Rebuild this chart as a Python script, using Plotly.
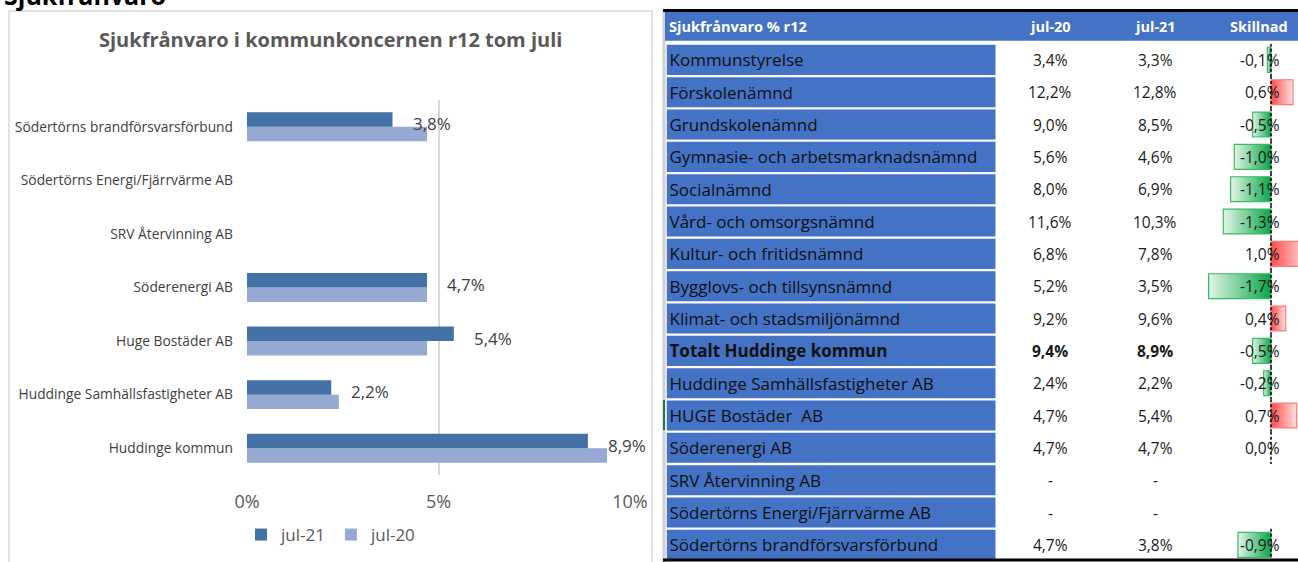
import plotly.graph_objects as go

W, H = 1298, 562
FONT = "Open Sans"

# ---------------- Left chart data ----------------
chart_categories = ["Huddinge kommun", "Huddinge Samhällsfastigheter AB", "Huge Bostäder AB",
                    "Söderenergi AB", "SRV Återvinning AB", "Södertörns Energi/Fjärrvärme AB",
                    "Södertörns brandförsvarsförbund"]
chart_jul21 = [8.9, 2.2, 5.4, 4.7, None, None, 3.8]
chart_jul20 = [9.4, 2.4, 4.7, 4.7, None, None, 4.7]
x_ticks = [0, 5, 10]
x_ticklabels = ["0%", "5%", "10%"]
chart_title = "Sjukfrånvaro i kommunkoncernen r12 tom juli"
page_heading = "Sjukfrånvaro"

# ---------------- Table data ----------------
table_headers = ["Sjukfrånvaro % r12", "jul-20", "jul-21", "Skillnad"]
table_rows = ["Kommunstyrelse", "Förskolenämnd", "Grundskolenämnd",
              "Gymnasie- och arbetsmarknadsnämnd", "Socialnämnd", "Vård- och omsorgsnämnd",
              "Kultur- och fritidsnämnd", "Bygglovs- och tillsynsnämnd",
              "Klimat- och stadsmiljönämnd", "Totalt Huddinge kommun",
              "Huddinge Samhällsfastigheter AB", "HUGE Bostäder  AB", "Söderenergi AB",
              "SRV Återvinning AB", "Södertörns Energi/Fjärrvärme AB",
              "Södertörns brandförsvarsförbund"]
table_jul20 = [3.4, 12.2, 9.0, 5.6, 8.0, 11.6, 6.8, 5.2, 9.2, 9.4, 2.4, 4.7, 4.7, None, None, 4.7]
table_jul21 = [3.3, 12.8, 8.5, 4.6, 6.9, 10.3, 7.8, 3.5, 9.6, 8.9, 2.2, 5.4, 4.7, None, None, 3.8]
table_diff = [-0.1, 0.6, -0.5, -1.0, -1.1, -1.3, 1.0, -1.7, 0.4, -0.5, -0.2, 0.7, 0.0, None, None, -0.9]
bold_rows = ["Totalt Huddinge kommun"]


def fmt(v, dash="-"):
    if v is None:
        return dash
    return f"{v:.1f}".replace(".", ",") + "%"


def px_x(p):
    return p / W


def px_y(p):
    return 1 - p / H


fig = go.Figure()

# ---------------- Left bar chart ----------------
fig.add_trace(go.Bar(
    y=chart_categories, x=chart_jul20, name="jul-20", orientation="h",
    marker=dict(color="#95A9D3", line=dict(width=0)), legendrank=2,
    xaxis="x", yaxis="y", hoverinfo="skip"))
fig.add_trace(go.Bar(
    y=chart_categories, x=chart_jul21, name="jul-21", orientation="h",
    marker=dict(color="#4472A6", line=dict(width=0)), legendrank=1,
    xaxis="x", yaxis="y", hoverinfo="skip"))

annotations = []
for cat, v in zip(chart_categories, chart_jul21):
    if v is None:
        continue
    annotations.append(dict(
        x=v, y=cat, xref="x", yref="y", text=fmt(v), showarrow=False,
        xanchor="left", yanchor="middle", xshift=18, yshift=3,
        font=dict(family=FONT, size=17, color="#404040")))

annotations.append(dict(
    x=px_x(330), y=px_y(40), xref="paper", yref="paper", text="<b>" + chart_title + "</b>",
    showarrow=False, xanchor="center", yanchor="middle",
    font=dict(family=FONT, size=20, color="#595959")))

annotations.append(dict(
    x=px_x(2), y=px_y(14), xref="paper", yref="paper", text="<b>" + page_heading + "</b>",
    showarrow=False, xanchor="left", yanchor="bottom",
    font=dict(family=FONT, size=25, color="#000000")))

# ---------------- Table ----------------
row_idx = list(range(len(table_rows)))
name_text = []
for r in table_rows:
    t = r.replace("  ", " \u00a0")
    name_text.append("<b>" + t + "</b>" if r in bold_rows else t)

fig.add_trace(go.Bar(
    x=[1] * len(table_rows), y=row_idx, orientation="h", width=0.93,
    marker=dict(color="#4472C4", line=dict(width=0)),
    text=name_text, textposition="inside", insidetextanchor="start", textangle=0,
    constraintext="none", insidetextfont=dict(family=FONT, size=17, color="#111111"),
    xaxis="x2", yaxis="y2", showlegend=False, hoverinfo="skip"))

# data bars for Skillnad
half = 0.385
for i, v in enumerate(table_diff):
    if v is None or v == 0:
        continue
    if v < 0:
        grad = dict(type="horizontal", start=v, stop=0,
                    colorscale=[[0, "#E4F5E9"], [1, "#0AA548"]])
        lc = "#35BD63"
    else:
        grad = dict(type="horizontal", start=0, stop=v,
                    colorscale=[[0, "#FF4A4A"], [1, "#FFE0E0"]])
        lc = "#FF7B7B"
    fig.add_trace(go.Scatter(
        x=[0, v, v, 0, 0], y=[i - half, i - half, i + half, i + half, i - half],
        mode="lines", fill="toself", fillgradient=grad,
        line=dict(color=lc, width=1.2), xaxis="x3", yaxis="y2",
        showlegend=False, hoverinfo="skip"))

# dashed axis line for rows with values
ax_x, ax_y = [], []
for i, v in enumerate(table_diff):
    if v is None:
        continue
    ax_x += [0, 0, None]
    ax_y += [i - 0.5, i + 0.5, None]
fig.add_trace(go.Scatter(
    x=ax_x, y=ax_y, mode="lines", line=dict(color="#000000", width=1.5, dash="3px,2px"),
    xaxis="x3", yaxis="y2", showlegend=False, hoverinfo="skip"))

# value columns
col_x = {"jul-20": 1050, "jul-21": 1155}
for i, (r, a, b, d) in enumerate(zip(table_rows, table_jul20, table_jul21, table_diff)):
    bold = r in bold_rows
    for key, val in (("jul-20", a), ("jul-21", b)):
        t = fmt(val)
        annotations.append(dict(
            x=px_x(col_x[key]), y=i, xref="paper", yref="y2",
            text="<b>" + t + "</b>" if bold else t, showarrow=False,
            xanchor="center", yanchor="middle",
            font=dict(family=FONT, size=15.5, color="#1a1a1a")))
    if d is not None:
        annotations.append(dict(
            x=px_x(1282), y=i, xref="paper", yref="y2", text=fmt(d), showarrow=False,
            xanchor="right", yanchor="middle",
            font=dict(family=FONT, size=15.5, color="#1a1a1a")))

# header texts
annotations.append(dict(
    x=px_x(667), y=px_y(26.5), xref="paper", yref="paper", text="<b>" + table_headers[0] + "</b>",
    showarrow=False, xanchor="left", yanchor="middle",
    font=dict(family=FONT, size=14.5, color="#ffffff")))
for txt, cx in zip(table_headers[1:], [1050, 1155, 1259]):
    annotations.append(dict(
        x=px_x(cx), y=px_y(26.5), xref="paper", yref="paper", text="<b>" + txt + "</b>",
        showarrow=False, xanchor="center", yanchor="middle",
        font=dict(family=FONT, size=14.5, color="#ffffff")))

shapes = [
    # left panel frame
    dict(type="rect", xref="paper", yref="paper", x0=px_x(9), x1=px_x(652), y0=px_y(575), y1=px_y(11),
         line=dict(color="#d9d9d9", width=1.5), fillcolor="rgba(0,0,0,0)", layer="below"),
    # table left gray strip
    dict(type="line", xref="paper", yref="paper", x0=px_x(664), x1=px_x(664), y0=0, y1=px_y(9),
         line=dict(color="#d0d0d0", width=3), layer="below"),
    # selected-row marker on the left strip
    dict(type="line", xref="paper", yref="paper", x0=px_x(664), x1=px_x(664),
         y0=px_y(430), y1=px_y(400), line=dict(color="#217346", width=2)),
    # header band
    dict(type="rect", xref="paper", yref="paper", x0=px_x(665), x1=1, y0=px_y(40.7), y1=px_y(12),
         line=dict(width=0), fillcolor="#4472C4", layer="below"),
    # top black rule
    dict(type="line", xref="paper", yref="paper", x0=px_x(663), x1=1, y0=px_y(10.5), y1=px_y(10.5),
         line=dict(color="#000000", width=3)),
    # bottom black rule
    dict(type="line", xref="paper", yref="paper", x0=px_x(663), x1=1, y0=px_y(560), y1=px_y(560),
         line=dict(color="#000000", width=3)),
]

fig.update_layout(
    template="none",
    width=W, height=H, autosize=False,
    margin=dict(l=0, r=0, t=0, b=0, pad=0),
    paper_bgcolor="#ffffff", plot_bgcolor="rgba(0,0,0,0)",
    font=dict(family=FONT, color="#404040"),
    barmode="group", bargap=0.46, bargroupgap=0,
    showlegend=True,
    legend=dict(orientation="h", x=px_x(241), y=px_y(535), xanchor="left", yanchor="middle",
                font=dict(family=FONT, size=17, color="#595959"), bgcolor="rgba(0,0,0,0)",
                itemwidth=30, traceorder="normal"),
    xaxis=dict(domain=[px_x(247), px_x(630)], range=[0, 10], tickvals=x_ticks,
               ticktext=x_ticklabels, showgrid=True, gridcolor="#d9d9d9", gridwidth=2,
               zeroline=False, showline=False, ticks="", ticklabelstandoff=14,
               automargin=False,
               tickfont=dict(family=FONT, size=18, color="#595959"), anchor="y", fixedrange=True),
    yaxis=dict(domain=[px_y(475), px_y(100)], type="category", categoryorder="array",
               categoryarray=chart_categories, showgrid=False, zeroline=False, showline=False,
               ticks="", ticklabelstandoff=13, anchor="x", automargin=False,
               tickfont=dict(family=FONT, size=13.8, color="#404040"), fixedrange=True),
    xaxis2=dict(domain=[px_x(666.5), px_x(995.7)], range=[0, 1], visible=False, anchor="y2",
                fixedrange=True),
    yaxis2=dict(domain=[px_y(561), px_y(43.7)], range=[15.5, -0.5], visible=False, anchor="x2",
                fixedrange=True),
    xaxis3=dict(domain=[px_x(1206), 1], range=[(1206 - 1271) / 36.7, (1298 - 1271) / 36.7],
                visible=False, anchor="y2", fixedrange=True),
    annotations=annotations,
    shapes=shapes,
)

fig.write_html("out.html", config={"displayModeBar": False},
               post_script="document.body.style.margin='0';document.body.style.overflow='hidden';")
